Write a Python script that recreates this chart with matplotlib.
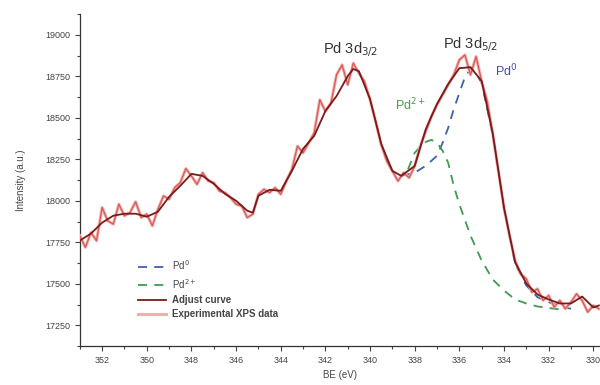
import matplotlib
matplotlib.use("Agg")
import matplotlib.pyplot as plt
import numpy as np
from matplotlib.ticker import MultipleLocator

plt.rcParams["font.family"] = ["Liberation Sans", "DejaVu Sans"]

# experimental XPS data, 0.25 eV steps from 353.0 down to 329.75 eV
be_exp = np.arange(353.0, 329.70, -0.25)
intensity_exp = [
    17790, 17720, 17810, 17760, 17960, 17880, 17860, 17980,
    17910, 17930, 17995, 17900, 17920, 17850, 17950, 18030,
    18010, 18080, 18110, 18195, 18150, 18100, 18170, 18120,
    18110, 18060, 18050, 18020, 17980, 17970, 17900, 17920,
    18040, 18070, 18050, 18080, 18040, 18120, 18190, 18330,
    18290, 18350, 18410, 18610, 18540, 18590, 18760, 18820,
    18700, 18830, 18770, 18720, 18610, 18480, 18340, 18240,
    18180, 18120, 18170, 18140, 18210, 18330, 18420, 18510,
    18580, 18640, 18700, 18760, 18850, 18880, 18760, 18870,
    18720, 18600, 18400, 18180, 17960, 17790, 17640, 17560,
    17530, 17450, 17470, 17400, 17430, 17360, 17400, 17350,
    17390, 17440, 17400, 17330, 17370, 17350,
]

# adjusted (fitted) curve
be_fit = [353.0, 352.5, 352.0, 351.5, 351.0, 350.5, 350.0, 349.5, 349.0, 348.5,
          348.0, 347.5, 347.0, 346.5, 346.0, 345.5, 345.25, 345.0, 344.5, 344.0,
          343.5, 343.0, 342.5, 342.0, 341.5, 341.0, 340.75, 340.5, 340.0, 339.5,
          339.0, 338.6, 338.0, 337.5, 337.0, 336.5, 336.0, 335.5, 335.0, 334.5,
          334.0, 333.5, 333.0, 332.5, 332.0, 331.5, 331.0, 330.5, 330.0, 329.75]
intensity_fit = [17761, 17803, 17869, 17911, 17923, 17923, 17905, 17935, 18025, 18091,
                 18163, 18151, 18103, 18043, 18001, 17941, 17929, 18031, 18067, 18061,
                 18181, 18314, 18392, 18542, 18632, 18752, 18795, 18782, 18614, 18344,
                 18181, 18151, 18211, 18434, 18584, 18704, 18800, 18806, 18722, 18404,
                 17959, 17629, 17502, 17436, 17406, 17382, 17382, 17424, 17358, 17370]

# Pd0 component
be_pd0 = [338.6, 338.0, 337.5, 337.0, 336.75, 336.5, 336.25, 336.0, 335.75, 335.5,
          335.25, 335.0, 334.5, 334.0, 333.5, 333.0, 332.5, 332.0, 331.5, 331.0]
intensity_pd0 = [18151, 18170, 18212, 18272, 18350, 18440, 18554, 18650, 18746, 18794,
                 18770, 18710, 18395, 17950, 17620, 17490, 17420, 17390, 17365, 17350]

# Pd2+ component
be_pd2 = [338.3, 338.0, 337.75, 337.5, 337.25, 337.0, 336.75, 336.5, 336.25, 336.0,
          335.5, 335.0, 334.5, 334.0, 333.5, 333.0, 332.5, 332.0, 331.5]
intensity_pd2 = [18190, 18290, 18326, 18356, 18368, 18350, 18302, 18230, 18091, 17980,
                 17791, 17640, 17526, 17460, 17406, 17382, 17364, 17355, 17346]

fig = plt.figure(figsize=(6.0, 3.85), dpi=100)
ax = fig.add_axes([0.133, 0.101, 0.867, 0.862])

ax.plot(be_pd0, intensity_pd0, color="#3f5fb0", lw=1.3, ls=(0, (5, 4)), label="Pd$^{0}$", zorder=2)
ax.plot(be_pd2, intensity_pd2, color="#3f9a50", lw=1.3, ls=(0, (5, 4)), label="Pd$^{2+}$", zorder=2)
ax.plot(be_exp, intensity_exp, color="#f2b0a8", lw=2.2, label="Experimental XPS data", zorder=3)
ax.plot(be_exp, intensity_exp, color="#d85858", lw=0.9, zorder=3)
ax.plot(be_fit, intensity_fit, color="#7a1a1a", lw=1.3, label="Adjust curve", zorder=4)

ax.set_xlim(353, 329.7)
ax.set_ylim(17125, 19125)
ax.xaxis.set_major_locator(MultipleLocator(2))
ax.xaxis.set_minor_locator(MultipleLocator(1))
ax.yaxis.set_major_locator(MultipleLocator(250))
ax.yaxis.set_minor_locator(MultipleLocator(125))
ax.tick_params(which="both", direction="out", colors="#444444", labelsize=6.5, width=0.8)
ax.tick_params(which="major", length=3.5)
ax.tick_params(which="minor", length=2)
for s in ["top", "right"]:
    ax.spines[s].set_visible(False)
for s in ["left", "bottom"]:
    ax.spines[s].set_color("#333333")
    ax.spines[s].set_linewidth(0.9)

ax.set_xlabel("BE (eV)", fontsize=7, color="#444444", labelpad=4)
ax.set_ylabel("Intensity (a.u.)", fontsize=7, color="#444444", labelpad=14)

ax.text(340.85, 18915, "Pd 3d$_{3/2}$", fontsize=10.5, color="#333333", ha="center", va="center")
ax.text(335.5, 18945, "Pd 3d$_{5/2}$", fontsize=10.5, color="#333333", ha="center", va="center")
ax.text(333.9, 18780, "Pd$^{0}$", fontsize=9, color="#3f4fb0", ha="center", va="center")
ax.text(338.2, 18580, "Pd$^{2+}$", fontsize=9, color="#4a9a4a", ha="center", va="center")

handles, labels = ax.get_legend_handles_labels()
order = [0, 1, 3, 2]
leg = ax.legend([handles[i] for i in order], [labels[i] for i in order],
                loc="upper left", bbox_to_anchor=(0.095, 0.29), frameon=False,
                fontsize=7, handlelength=2.9, labelspacing=0.45, handletextpad=0.6)
for t in leg.get_texts():
    t.set_color("#444444")
    if t.get_text() in ("Adjust curve", "Experimental XPS data"):
        t.set_fontweight("bold")

fig.savefig("out.png", dpi=100)
